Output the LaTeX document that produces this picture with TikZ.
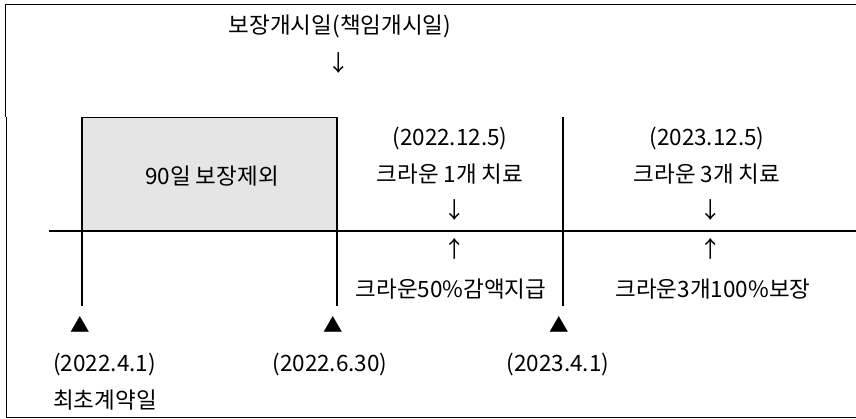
\documentclass[tikz,border=0pt]{standalone}
\usepackage{fontspec}
\setmainfont{Noto Sans CJK KR}
\tikzset{
  lbl/.style={font=\fontsize{22.5}{26}\selectfont, inner sep=0pt},
  tri/.style={font=\fontsize{19.5}{22}\selectfont, inner sep=0pt}
}
\begin{document}
\begin{tikzpicture}[x=1pt,y=-1pt]
\useasboundingbox (0,0) rectangle (856,418);
% frame
\draw[line width=0.8pt] (856,4) -- (5,4) -- (5,117);
\draw[line width=0.8pt] (6,117) -- (6,417) -- (856,417);
% exclusion period and time axis
\filldraw[fill=gray!20,line width=0.8pt] (82,117) rectangle (337,231);
\draw[line width=1.5pt] (49,231) -- (856,231);
\draw[line width=1.2pt] (82,117) -- (82,306);
\draw[line width=1.2pt] (337,117) -- (337,306);
\draw[line width=1.2pt] (563,117) -- (563,306);
\node[lbl] (start) at (340,26) {보장개시일(책임개시일)};
\node[lbl] (startarr) at (339,63) {↓};
\node[lbl] (excl) at (212,176) {90일 보장제외};
% treatments
\node[lbl] (d1) at (450,138) {(2022.12.5)};
\node[lbl] (t1) at (450,174) {크라운 1개 치료};
\node[lbl] (dn1) at (455,210) {↓};
\node[lbl] (up1) at (455,249) {↑};
\node[lbl] (pay1) at (451,289) {크라운50\%감액지급};
\node[lbl] (d2) at (707,138) {(2023.12.5)};
\node[lbl] (t2) at (707,174) {크라운 3개 치료};
\node[lbl] (dn2) at (711,210) {↓};
\node[lbl] (up2) at (711,249) {↑};
\node[lbl] (pay2) at (713,289) {크라운3개100\%보장};
% dates
\node[tri] (m1) at (80,324) {▲};
\node[tri] (m2) at (333,324) {▲};
\node[tri] (m3) at (559,324) {▲};
\node[lbl,anchor=west] (c1) at (53,364) {(2022.4.1)};
\node[lbl,anchor=west] (c1b) at (53,400) {최초계약일};
\node[lbl] (c2) at (330,364) {(2022.6.30)};
\node[lbl] (c3) at (558,364) {(2023.4.1)};
\end{tikzpicture}
\end{document}
